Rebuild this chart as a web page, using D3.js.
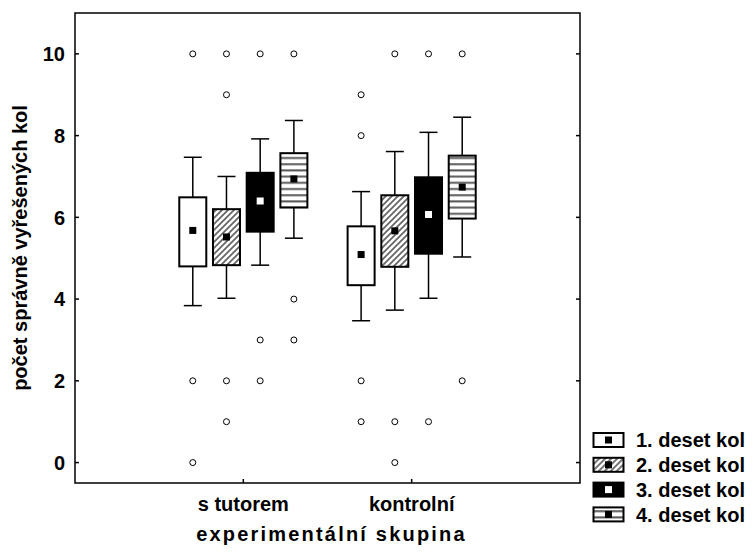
<!DOCTYPE html>
<html>
<head>
<meta charset="utf-8">
<script src="https://cdn.jsdelivr.net/npm/d3@7"></script>
<style>
  body { margin: 0; background: #fff; }
  svg { display: block; font-family: "Liberation Sans", Arial, sans-serif; font-weight: bold; }
</style>
</head>
<body>
<div id="chart"></div>
<script>
const groups = ["s tutorem", "kontrolní"];
const series = ["1. deset kol", "2. deset kol", "3. deset kol", "4. deset kol"];
const yTicks = [0, 2, 4, 6, 8, 10];

// per group, per series
const means = [[5.68, 5.52, 6.40, 6.94], [5.09, 5.67, 6.07, 6.74]];
const boxLow = [[4.80, 4.83, 5.65, 6.24], [4.34, 4.79, 5.11, 5.97]];
const boxHigh = [[6.49, 6.20, 7.09, 7.57], [5.78, 6.54, 6.98, 7.51]];
const whiskerLow = [[3.84, 4.02, 4.83, 5.49], [3.47, 3.73, 4.02, 5.03]];
const whiskerHigh = [[7.47, 7.00, 7.92, 8.37], [6.63, 7.61, 8.08, 8.45]];
const outliers = [
  [[10, 2, 0], [10, 9, 2, 1], [10, 3, 2], [10, 4, 3]],
  [[9, 8, 2, 1], [10, 1, 0], [10, 1], [10, 2]],
];

const width = 752;
const height = 552;
const marginLeft = 75;
const marginRight = 172;
const marginTop = 13;
const marginBottom = 69;
const boxWidth = 27;
const capWidth = 18;
const fontSize = 20;

const x = d3.scaleLinear().domain([0, groups.length + 1]).range([marginLeft, width - marginRight]);
const y = d3.scaleLinear().domain([-0.5, 11]).range([height - marginBottom, marginTop]);
const xSeries = d3.scaleBand().domain(series).range([-67.4, 67.4]);

const fills = ["#fff", "url(#hatch)", "#000", "url(#stripes)"];
const markFills = ["#000", "#000", "#fff", "#000"];

const svg = d3.select("#chart").append("svg")
  .attr("width", width)
  .attr("height", height);

const defs = svg.append("defs");
defs.append("pattern")
  .attr("id", "hatch")
  .attr("patternUnits", "userSpaceOnUse")
  .attr("width", 6)
  .attr("height", 6)
  .call((p) => p.append("rect").attr("width", 6).attr("height", 6).attr("fill", "#fff"))
  .append("path")
  .attr("d", "M-1,7 L7,-1 M-4,4 L4,-4 M2,10 L10,2")
  .attr("stroke", "#666")
  .attr("stroke-width", 1.8);
defs.append("pattern")
  .attr("id", "stripes")
  .attr("patternUnits", "userSpaceOnUse")
  .attr("width", 6)
  .attr("height", 6.2)
  .call((p) => p.append("rect").attr("width", 6).attr("height", 6.2).attr("fill", "#fff"))
  .append("rect")
  .attr("y", 2)
  .attr("width", 6)
  .attr("height", 2)
  .attr("fill", "#5a5a5a");

// frame
svg.append("rect")
  .attr("x", marginLeft)
  .attr("y", marginTop)
  .attr("width", width - marginLeft - marginRight)
  .attr("height", height - marginTop - marginBottom)
  .attr("fill", "none")
  .attr("stroke", "#000")
  .attr("stroke-width", 1.5);

// y ticks (inner, both sides)
const gY = svg.append("g").attr("font-size", fontSize);
gY.selectAll(".tick-l")
  .data(yTicks)
  .join("line")
  .attr("x1", marginLeft)
  .attr("x2", marginLeft + 4)
  .attr("y1", (d) => y(d))
  .attr("y2", (d) => y(d))
  .attr("stroke", "#000")
  .attr("stroke-width", 1.5);
gY.selectAll(".tick-r")
  .data(yTicks)
  .join("line")
  .attr("x1", width - marginRight)
  .attr("x2", width - marginRight - 4)
  .attr("y1", (d) => y(d))
  .attr("y2", (d) => y(d))
  .attr("stroke", "#000")
  .attr("stroke-width", 1.5);
gY.selectAll("text")
  .data(yTicks)
  .join("text")
  .attr("x", marginLeft - 10)
  .attr("y", (d) => y(d))
  .attr("dy", "0.36em")
  .attr("text-anchor", "end")
  .text((d) => d);

svg.append("text")
  .attr("font-size", fontSize)
  .attr("text-anchor", "middle")
  .attr("transform", `translate(27,${(marginTop + height - marginBottom) / 2}) rotate(-90)`)
  .text("počet správně vyřešených kol");

// x ticks
const gX = svg.append("g").attr("font-size", fontSize);
gX.selectAll("line")
  .data(groups)
  .join("line")
  .attr("x1", (d, i) => x(i + 1))
  .attr("x2", (d, i) => x(i + 1))
  .attr("y1", height - marginBottom)
  .attr("y2", height - marginBottom - 4)
  .attr("stroke", "#000")
  .attr("stroke-width", 1.5);
gX.selectAll("text")
  .data(groups)
  .join("text")
  .attr("x", (d, i) => x(i + 1))
  .attr("y", 511)
  .attr("text-anchor", "middle")
  .text((d) => d);

svg.append("text")
  .attr("font-size", fontSize)
  .attr("letter-spacing", 2.2)
  .attr("text-anchor", "middle")
  .attr("x", (marginLeft + width - marginRight) / 2 + 4)
  .attr("y", 541)
  .text("experimentální skupina");

// boxes
const boxData = [];
groups.forEach((g, gi) => {
  series.forEach((s, si) => {
    boxData.push({
      gi, si,
      cx: x(gi + 1) + xSeries(s) + xSeries.bandwidth() / 2,
      mean: means[gi][si],
      lo: boxLow[gi][si],
      hi: boxHigh[gi][si],
      wlo: whiskerLow[gi][si],
      whi: whiskerHigh[gi][si],
      out: outliers[gi][si],
    });
  });
});

const box = svg.append("g").selectAll("g")
  .data(boxData)
  .join("g");

box.append("line")
  .attr("x1", (d) => d.cx).attr("x2", (d) => d.cx)
  .attr("y1", (d) => y(d.whi)).attr("y2", (d) => y(d.wlo))
  .attr("stroke", "#000").attr("stroke-width", 1.5);
box.selectAll(".cap")
  .data((d) => [d.whi, d.wlo].map((v) => ({ cx: d.cx, v })))
  .join("line")
  .attr("x1", (d) => d.cx - capWidth / 2).attr("x2", (d) => d.cx + capWidth / 2)
  .attr("y1", (d) => y(d.v)).attr("y2", (d) => y(d.v))
  .attr("stroke", "#000").attr("stroke-width", 1.5);
box.append("rect")
  .attr("x", (d) => d.cx - boxWidth / 2)
  .attr("width", boxWidth)
  .attr("y", (d) => y(d.hi))
  .attr("height", (d) => y(d.lo) - y(d.hi))
  .attr("fill", (d) => fills[d.si])
  .attr("stroke", "#000")
  .attr("stroke-width", 2);
box.append("rect")
  .attr("x", (d) => d.cx - 3.5)
  .attr("y", (d) => y(d.mean) - 3.5)
  .attr("width", 7)
  .attr("height", 7)
  .attr("fill", (d) => markFills[d.si]);
box.selectAll("circle")
  .data((d) => d.out.map((v) => ({ cx: d.cx, v })))
  .join("circle")
  .attr("cx", (d) => d.cx)
  .attr("cy", (d) => y(d.v))
  .attr("r", 3)
  .attr("fill", "#fff")
  .attr("stroke", "#000")
  .attr("stroke-width", 1);

// legend
const legend = svg.append("g")
  .selectAll("g")
  .data(series)
  .join("g")
  .attr("transform", (d, i) => `translate(593,${440 + i * 24.8})`);
legend.append("rect")
  .attr("x", 0.5).attr("y", -7)
  .attr("width", 30).attr("height", 14)
  .attr("fill", (d, i) => fills[i])
  .attr("stroke", "#000").attr("stroke-width", 2);
legend.append("rect")
  .attr("x", 12).attr("y", -3.5)
  .attr("width", 7).attr("height", 7)
  .attr("fill", (d, i) => markFills[i]);
legend.append("text")
  .attr("x", 43)
  .attr("dy", "0.36em")
  .attr("font-size", fontSize)
  .text((d) => d);
</script>
</body>
</html>
